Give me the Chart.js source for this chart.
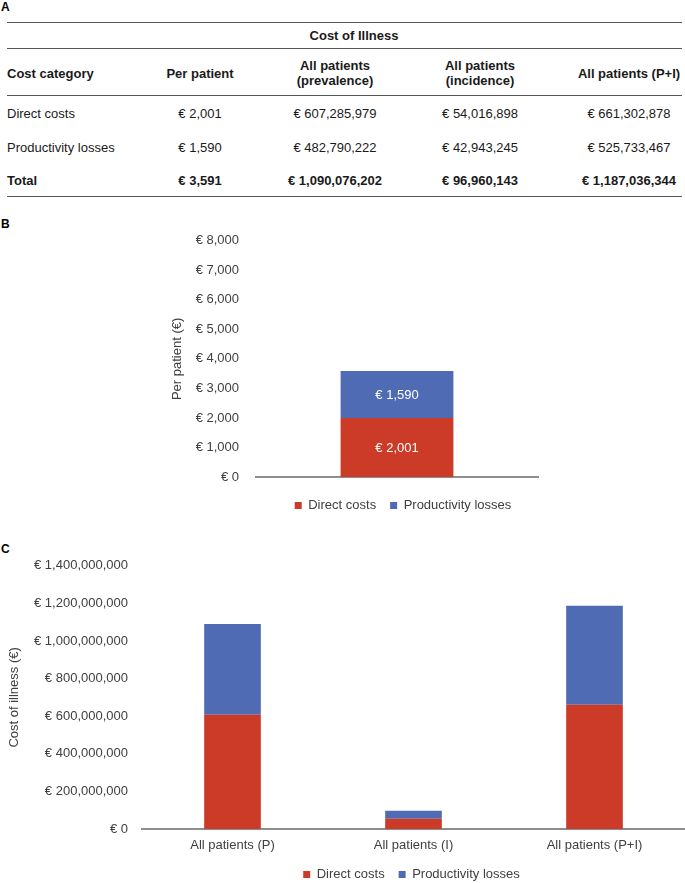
<!DOCTYPE html>
<html>
<head>
<meta charset="utf-8">
<script src="https://cdn.jsdelivr.net/npm/chart.js@4.4.0/dist/chart.umd.min.js"></script>
<style>
html,body{margin:0;padding:0;width:685px;height:883px;overflow:hidden;background:#fff;font-family:"Liberation Sans",Arial,sans-serif;}
.panel{position:absolute;left:1px;font-weight:bold;font-size:12px;line-height:12px;color:#000;}
.rule{position:absolute;left:7px;width:675px;height:0;border-top:1.5px solid #555;}
.cell{position:absolute;font-size:13px;line-height:15px;color:#1a1a1a;white-space:nowrap;}
.c{text-align:center;width:220px;}
.b{font-weight:bold;}
canvas{position:absolute;left:0;}
</style>
</head>
<body>
<div class="panel" style="top:1px">A</div>
<div class="panel" style="top:218px">B</div>
<div class="panel" style="top:543px">C</div>
<div id="table"></div>
<canvas id="chartB" width="685" height="306" style="top:216px"></canvas>
<canvas id="chartC" width="685" height="347" style="top:544px"></canvas>
<script>
// ---------- data ----------
const seriesNames = ['Direct costs', 'Productivity losses'];
const perPatientCategories = ['Per patient'];
const perPatientDirect = [2001];
const perPatientProductivity = [1590];
const allPatientsCategories = ['All patients (P)', 'All patients (I)', 'All patients (P+I)'];
const allPatientsDirect = [607285979, 54016898, 661302878];
const allPatientsProductivity = [482790222, 42943245, 525733467];
const perPatientTicks = [0, 1000, 2000, 3000, 4000, 5000, 6000, 7000, 8000];
const allPatientsTicks = [0, 200000000, 400000000, 600000000, 800000000, 1000000000, 1200000000, 1400000000];

const tableTitle = 'Cost of Illness';
const tableHeader = [['Cost category'], ['Per patient'], ['All patients', '(prevalence)'], ['All patients', '(incidence)'], ['All patients (P+I)']];
const tableRowNames = ['Direct costs', 'Productivity losses', 'Total'];
const tableDirect = [2001, 607285979, 54016898, 661302878];
const tableProductivity = [1590, 482790222, 42943245, 525733467];
const tableTotal = [3591, 1090076202, 96960143, 1187036344];

const RED = '#CC3B28';
const BLUE = '#4E6BB4';
const TXT = '#404040';
const AXIS = '#8E8E8E';
const euro = v => '€ ' + Number(v).toLocaleString('en-US');

// ---------- table (A) ----------
(function () {
  const t = document.getElementById('table');
  const add = (html, cls, style) => {
    const d = document.createElement('div');
    d.className = cls; d.innerHTML = html; d.setAttribute('style', style); t.appendChild(d);
  };
  [23, 49, 96, 197].forEach(y => add('', 'rule', 'top:' + (y - 1) + 'px'));
  const colX = [7, 200, 335, 480, 629];
  add(tableTitle, 'cell c b', 'left:' + (354 - 110) + 'px;top:' + (36 - 8) + 'px');
  tableHeader.forEach((lines, i) => {
    const top = 73 - lines.length * 7.5;
    if (i === 0) add(lines.join('<br>'), 'cell b', 'left:7px;top:' + top + 'px');
    else add(lines.join('<br>'), 'cell c b', 'left:' + (colX[i] - 110) + 'px;top:' + top + 'px');
  });
  const rows = [tableDirect, tableProductivity, tableTotal];
  const rowY = [113, 147, 180];
  rows.forEach((vals, r) => {
    const bold = r === 2 ? ' b' : '';
    const top = rowY[r] - 7.5;
    add(tableRowNames[r], 'cell' + bold, 'left:7px;top:' + top + 'px');
    vals.forEach((v, i) => add(euro(v), 'cell c' + bold, 'left:' + (colX[i + 1] - 110) + 'px;top:' + top + 'px'));
  });
})();

// ---------- charts ----------
Chart.defaults.font.family = '"Liberation Sans", Arial, sans-serif';
Chart.defaults.font.size = 13;
Chart.defaults.color = TXT;

const legendOverPlot = {
  id: 'legendOverPlot',
  afterLayout(chart, args, opts) {
    const l = chart.legend, a = chart.chartArea;
    if (!l) return;
    const dx = opts.dx || 0;
    l.left = a.left + dx; l.right = a.right + dx; l.width = l.right - l.left;
  }
};
const valueLabels = {
  id: 'valueLabels',
  afterDatasetsDraw(chart, args, opts) {
    if (!opts.show) return;
    const ctx = chart.ctx;
    ctx.save();
    ctx.fillStyle = '#ffffff';
    ctx.font = '13px "Liberation Sans", Arial, sans-serif';
    ctx.textAlign = 'center';
    ctx.textBaseline = 'middle';
    chart.data.datasets.forEach((ds, i) => {
      chart.getDatasetMeta(i).data.forEach((bar, j) => {
        ctx.fillText(euro(ds.data[j]), bar.x, (bar.y + bar.base) / 2 + 1);
      });
    });
    ctx.restore();
  }
};

function makeChart(id, cats, direct, prod, ticks, o) {
  return new Chart(document.getElementById(id), {
    type: 'bar',
    data: {
      labels: cats,
      datasets: [
        { label: seriesNames[0], data: direct, backgroundColor: RED, borderWidth: 0 },
        { label: seriesNames[1], data: prod, backgroundColor: BLUE, borderWidth: 0 }
      ]
    },
    options: {
      responsive: false, animation: false, devicePixelRatio: 1,
      layout: { padding: o.padding },
      datasets: { bar: { categoryPercentage: 1, barPercentage: o.barPct } },
      plugins: {
        legend: { position: 'bottom', labels: { boxWidth: 7, boxHeight: 7, padding: 14, color: TXT, font: { size: 13 } } },
        tooltip: { enabled: false },
        legendOverPlot: { dx: o.legendDx },
        valueLabels: { show: o.labels }
      },
      scales: {
        x: {
          stacked: true,
          grid: { display: false, drawTicks: false },
          border: { display: true, color: AXIS, width: 2 },
          ticks: { display: o.xTicks, padding: 9, color: TXT, font: { size: 13 } },
          afterFit(s) { s.height = o.xHeight; }
        },
        y: {
          stacked: true,
          min: ticks[0], max: ticks[ticks.length - 1],
          afterBuildTicks(s) { s.ticks = ticks.map(v => ({ value: v })); },
          grid: { display: false, drawTicks: false },
          border: { display: false },
          ticks: { padding: o.yPad, color: TXT, font: { size: 13 }, callback: v => euro(v) },
          title: { display: true, text: o.yTitle, color: TXT, font: { size: 13 }, padding: { top: o.titlePad, bottom: 0 } },
          afterFit(s) { s.width = o.yWidth; }
        }
      }
    },
    plugins: [legendOverPlot, valueLabels]
  });
}

makeChart('chartB', perPatientCategories, perPatientDirect, perPatientProductivity, perPatientTicks, {
  padding: { left: 160, right: 147, top: 0, bottom: 0 },
  barPct: 0.4, legendDx: 6, labels: true, xTicks: false, xHeight: 8,
  yPad: 17, yWidth: 96, titlePad: 10, yTitle: 'Per patient (€)'
});
makeChart('chartC', allPatientsCategories, allPatientsDirect, allPatientsProductivity, allPatientsTicks, {
  padding: { left: 0, right: 0, top: 0, bottom: 0 },
  barPct: 0.313, legendDx: -2, labels: false, xTicks: true, xHeight: 25,
  yPad: 14, yWidth: 142, titlePad: 7, yTitle: 'Cost of illness (€)'
});
</script>
</body>
</html>
